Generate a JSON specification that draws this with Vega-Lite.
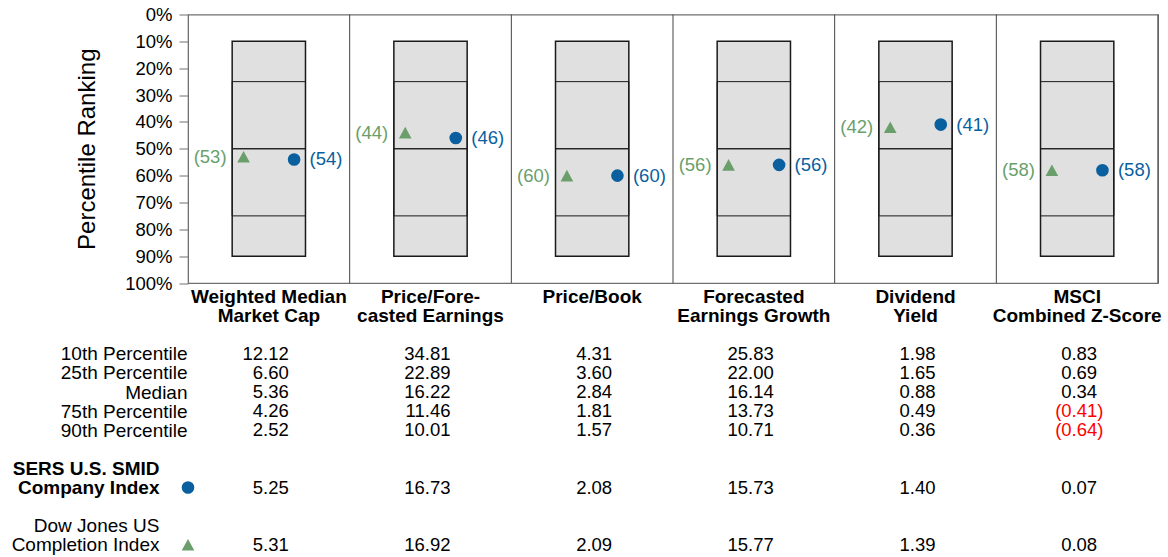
{
  "$schema": "https://vega.github.io/schema/vega-lite/v6.json",
  "background": "white",
  "padding": {"left": 11, "top": 4.5, "right": 4, "bottom": 2},
  "config": {"font": "Liberation Sans", "view": {"stroke": null}},
  "bounds": "flush",
  "spacing": 70.3,
  "datasets": {
    "metrics": [
      {"metric": "Weighted Median\nMarket Cap", "p10": 10, "p25": 25, "p50": 50, "p75": 75, "p90": 90},
      {"metric": "Price/Fore-\ncasted Earnings", "p10": 10, "p25": 25, "p50": 50, "p75": 75, "p90": 90},
      {"metric": "Price/Book", "p10": 10, "p25": 25, "p50": 50, "p75": 75, "p90": 90},
      {"metric": "Forecasted\nEarnings Growth", "p10": 10, "p25": 25, "p50": 50, "p75": 75, "p90": 90},
      {"metric": "Dividend\nYield", "p10": 10, "p25": 25, "p50": 50, "p75": 75, "p90": 90},
      {"metric": "MSCI\nCombined Z-Score", "p10": 10, "p25": 25, "p50": 50, "p75": 75, "p90": 90}
    ],
    "ranks": [
      {"metric": "Weighted Median\nMarket Cap", "series": "SERS U.S. SMID Company Index", "pct": 54},
      {"metric": "Weighted Median\nMarket Cap", "series": "Dow Jones US Completion Index", "pct": 53},
      {"metric": "Price/Fore-\ncasted Earnings", "series": "SERS U.S. SMID Company Index", "pct": 46},
      {"metric": "Price/Fore-\ncasted Earnings", "series": "Dow Jones US Completion Index", "pct": 44},
      {"metric": "Price/Book", "series": "SERS U.S. SMID Company Index", "pct": 60},
      {"metric": "Price/Book", "series": "Dow Jones US Completion Index", "pct": 60},
      {"metric": "Forecasted\nEarnings Growth", "series": "SERS U.S. SMID Company Index", "pct": 56},
      {"metric": "Forecasted\nEarnings Growth", "series": "Dow Jones US Completion Index", "pct": 56},
      {"metric": "Dividend\nYield", "series": "SERS U.S. SMID Company Index", "pct": 41},
      {"metric": "Dividend\nYield", "series": "Dow Jones US Completion Index", "pct": 42},
      {"metric": "MSCI\nCombined Z-Score", "series": "SERS U.S. SMID Company Index", "pct": 58},
      {"metric": "MSCI\nCombined Z-Score", "series": "Dow Jones US Completion Index", "pct": 58}
    ],
    "keys": [
      {"series": "SERS U.S. SMID Company Index"},
      {"series": "Dow Jones US Completion Index"}
    ],
    "stats": [
      {"metric": "Weighted Median\nMarket Cap", "row": "10th Percentile", "value": 12.12},
      {"metric": "Weighted Median\nMarket Cap", "row": "25th Percentile", "value": 6.60},
      {"metric": "Weighted Median\nMarket Cap", "row": "Median", "value": 5.36},
      {"metric": "Weighted Median\nMarket Cap", "row": "75th Percentile", "value": 4.26},
      {"metric": "Weighted Median\nMarket Cap", "row": "90th Percentile", "value": 2.52},
      {"metric": "Weighted Median\nMarket Cap", "row": "SERS U.S. SMID Company Index", "value": 5.25},
      {"metric": "Weighted Median\nMarket Cap", "row": "Dow Jones US Completion Index", "value": 5.31},
      {"metric": "Price/Fore-\ncasted Earnings", "row": "10th Percentile", "value": 34.81},
      {"metric": "Price/Fore-\ncasted Earnings", "row": "25th Percentile", "value": 22.89},
      {"metric": "Price/Fore-\ncasted Earnings", "row": "Median", "value": 16.22},
      {"metric": "Price/Fore-\ncasted Earnings", "row": "75th Percentile", "value": 11.46},
      {"metric": "Price/Fore-\ncasted Earnings", "row": "90th Percentile", "value": 10.01},
      {"metric": "Price/Fore-\ncasted Earnings", "row": "SERS U.S. SMID Company Index", "value": 16.73},
      {"metric": "Price/Fore-\ncasted Earnings", "row": "Dow Jones US Completion Index", "value": 16.92},
      {"metric": "Price/Book", "row": "10th Percentile", "value": 4.31},
      {"metric": "Price/Book", "row": "25th Percentile", "value": 3.60},
      {"metric": "Price/Book", "row": "Median", "value": 2.84},
      {"metric": "Price/Book", "row": "75th Percentile", "value": 1.81},
      {"metric": "Price/Book", "row": "90th Percentile", "value": 1.57},
      {"metric": "Price/Book", "row": "SERS U.S. SMID Company Index", "value": 2.08},
      {"metric": "Price/Book", "row": "Dow Jones US Completion Index", "value": 2.09},
      {"metric": "Forecasted\nEarnings Growth", "row": "10th Percentile", "value": 25.83},
      {"metric": "Forecasted\nEarnings Growth", "row": "25th Percentile", "value": 22.00},
      {"metric": "Forecasted\nEarnings Growth", "row": "Median", "value": 16.14},
      {"metric": "Forecasted\nEarnings Growth", "row": "75th Percentile", "value": 13.73},
      {"metric": "Forecasted\nEarnings Growth", "row": "90th Percentile", "value": 10.71},
      {"metric": "Forecasted\nEarnings Growth", "row": "SERS U.S. SMID Company Index", "value": 15.73},
      {"metric": "Forecasted\nEarnings Growth", "row": "Dow Jones US Completion Index", "value": 15.77},
      {"metric": "Dividend\nYield", "row": "10th Percentile", "value": 1.98},
      {"metric": "Dividend\nYield", "row": "25th Percentile", "value": 1.65},
      {"metric": "Dividend\nYield", "row": "Median", "value": 0.88},
      {"metric": "Dividend\nYield", "row": "75th Percentile", "value": 0.49},
      {"metric": "Dividend\nYield", "row": "90th Percentile", "value": 0.36},
      {"metric": "Dividend\nYield", "row": "SERS U.S. SMID Company Index", "value": 1.40},
      {"metric": "Dividend\nYield", "row": "Dow Jones US Completion Index", "value": 1.39},
      {"metric": "MSCI\nCombined Z-Score", "row": "10th Percentile", "value": 0.83},
      {"metric": "MSCI\nCombined Z-Score", "row": "25th Percentile", "value": 0.69},
      {"metric": "MSCI\nCombined Z-Score", "row": "Median", "value": 0.34},
      {"metric": "MSCI\nCombined Z-Score", "row": "75th Percentile", "value": -0.41},
      {"metric": "MSCI\nCombined Z-Score", "row": "90th Percentile", "value": -0.64},
      {"metric": "MSCI\nCombined Z-Score", "row": "SERS U.S. SMID Company Index", "value": 0.07},
      {"metric": "MSCI\nCombined Z-Score", "row": "Dow Jones US Completion Index", "value": 0.08}
    ]
  },
  "vconcat": [
    {
      "width": 970,
      "height": 268.5,
      "view": {"stroke": "#707070", "strokeWidth": 1.2},
      "layer": [
        {
          "data": {"name": "metrics"},
          "mark": {"type": "bar", "width": {"band": 0.4535}, "fill": "#e0e0e0", "stroke": "#1a1a1a", "strokeWidth": 1.5},
          "encoding": {
            "x": {
              "field": "metric", "type": "nominal",
              "scale": {"type": "band", "domain": ["Weighted Median\nMarket Cap", "Price/Fore-\ncasted Earnings", "Price/Book", "Forecasted\nEarnings Growth", "Dividend\nYield", "MSCI\nCombined Z-Score"], "paddingInner": 0, "paddingOuter": 0},
              "axis": {"title": null, "orient": "bottom", "labelAngle": 0, "labelExpr": "split(datum.label, '\\n')", "labelFontSize": 19, "labelFontWeight": "bold", "labelColor": "black", "labelBaseline": "top", "labelLineHeight": 19, "labelPadding": 4, "ticks": false, "domain": false, "grid": false, "labelOverlap": false, "labelBound": false, "labelLimit": 400}
            },
            "y": {
              "field": "p10", "type": "quantitative",
              "scale": {"domain": [0, 100], "reverse": true, "nice": false, "zero": true},
              "axis": {"title": "Percentile Ranking", "titleFontSize": 24, "titleFontWeight": "normal", "titleColor": "black", "titlePadding": 25, "values": [0, 10, 20, 30, 40, 50, 60, 70, 80, 90, 100], "tickCount": 11, "labelExpr": "datum.value + '%'", "labelFontSize": 18.5, "labelColor": "black", "labelPadding": 7, "tickSize": 9, "tickColor": "#707070", "domainColor": "#707070", "grid": false, "labelFlush": false, "labelOverlap": false, "labelBound": false}
            },
            "y2": {"field": "p90"}
          }
        },
        {
          "data": {"name": "metrics"},
          "mark": {"type": "bar", "width": {"band": 0.4535}, "fill": "transparent", "stroke": "#1a1a1a", "strokeWidth": 1},
          "encoding": {
            "x": {"field": "metric", "type": "nominal"},
            "y": {"field": "p25", "type": "quantitative",
              "axis": {"title": "Percentile Ranking", "titleFontSize": 24, "titleFontWeight": "normal", "titleColor": "black", "titlePadding": 25, "values": [0, 10, 20, 30, 40, 50, 60, 70, 80, 90, 100], "tickCount": 11, "labelExpr": "datum.value + '%'", "labelFontSize": 18.5, "labelColor": "black", "labelPadding": 7, "tickSize": 9, "tickColor": "#707070", "domainColor": "#707070", "grid": false, "labelFlush": false, "labelOverlap": false, "labelBound": false}},
            "y2": {"field": "p50"}
          }
        },
        {
          "data": {"name": "metrics"},
          "mark": {"type": "bar", "width": {"band": 0.4535}, "fill": "transparent", "stroke": "#1a1a1a", "strokeWidth": 1},
          "encoding": {
            "x": {"field": "metric", "type": "nominal"},
            "y": {"field": "p50", "type": "quantitative",
              "axis": {"title": "Percentile Ranking", "titleFontSize": 24, "titleFontWeight": "normal", "titleColor": "black", "titlePadding": 25, "values": [0, 10, 20, 30, 40, 50, 60, 70, 80, 90, 100], "tickCount": 11, "labelExpr": "datum.value + '%'", "labelFontSize": 18.5, "labelColor": "black", "labelPadding": 7, "tickSize": 9, "tickColor": "#707070", "domainColor": "#707070", "grid": false, "labelFlush": false, "labelOverlap": false, "labelBound": false}},
            "y2": {"field": "p75"}
          }
        },
        {
          "data": {"name": "metrics"},
          "mark": {"type": "rule", "color": "#444444", "strokeWidth": 1},
          "encoding": {
            "x": {"field": "metric", "type": "nominal", "bandPosition": 1}
          }
        },
        {
          "data": {"name": "ranks"},
          "mark": {"type": "point", "filled": true, "size": 160, "opacity": 1},
          "encoding": {
            "x": {"field": "metric", "type": "nominal"},
            "xOffset": {"field": "series", "type": "nominal", "scale": {"type": "band", "domain": ["Dow Jones US Completion Index", "SERS U.S. SMID Company Index"], "paddingInner": 0, "paddingOuter": 0.6}},
            "y": {"field": "pct", "type": "quantitative",
              "axis": {"title": "Percentile Ranking", "titleFontSize": 24, "titleFontWeight": "normal", "titleColor": "black", "titlePadding": 25, "values": [0, 10, 20, 30, 40, 50, 60, 70, 80, 90, 100], "tickCount": 11, "labelExpr": "datum.value + '%'", "labelFontSize": 18.5, "labelColor": "black", "labelPadding": 7, "tickSize": 9, "tickColor": "#707070", "domainColor": "#707070", "grid": false, "labelFlush": false, "labelOverlap": false, "labelBound": false}},
            "shape": {"field": "series", "type": "nominal", "scale": {"domain": ["SERS U.S. SMID Company Index", "Dow Jones US Completion Index"], "range": ["circle", "M0,-0.92L-1,0.92L1,0.92Z"]}, "legend": null},
            "color": {"field": "series", "type": "nominal", "scale": {"domain": ["SERS U.S. SMID Company Index", "Dow Jones US Completion Index"], "range": ["#0a5f9e", "#6a9f6b"]}, "legend": null}
          }
        },
        {
          "data": {"name": "ranks"},
          "transform": [
            {"filter": "datum.series === 'Dow Jones US Completion Index'"},
            {"calculate": "'(' + datum.pct + ')'", "as": "label"}
          ],
          "mark": {"type": "text", "align": "right", "baseline": "middle", "dx": -17, "fontSize": 18.5, "color": "#6a9f6b"},
          "encoding": {
            "x": {"field": "metric", "type": "nominal"},
            "xOffset": {"field": "series", "type": "nominal"},
            "y": {"field": "pct", "type": "quantitative",
              "axis": {"title": "Percentile Ranking", "titleFontSize": 24, "titleFontWeight": "normal", "titleColor": "black", "titlePadding": 25, "values": [0, 10, 20, 30, 40, 50, 60, 70, 80, 90, 100], "tickCount": 11, "labelExpr": "datum.value + '%'", "labelFontSize": 18.5, "labelColor": "black", "labelPadding": 7, "tickSize": 9, "tickColor": "#707070", "domainColor": "#707070", "grid": false, "labelFlush": false, "labelOverlap": false, "labelBound": false}},
            "text": {"field": "label"}
          }
        },
        {
          "data": {"name": "ranks"},
          "transform": [
            {"filter": "datum.series === 'SERS U.S. SMID Company Index'"},
            {"calculate": "'(' + datum.pct + ')'", "as": "label"}
          ],
          "mark": {"type": "text", "align": "left", "baseline": "middle", "dx": 15.5, "fontSize": 18.5, "color": "#0a5f9e"},
          "encoding": {
            "x": {"field": "metric", "type": "nominal"},
            "xOffset": {"field": "series", "type": "nominal"},
            "y": {"field": "pct", "type": "quantitative",
              "axis": {"title": "Percentile Ranking", "titleFontSize": 24, "titleFontWeight": "normal", "titleColor": "black", "titlePadding": 25, "values": [0, 10, 20, 30, 40, 50, 60, 70, 80, 90, 100], "tickCount": 11, "labelExpr": "datum.value + '%'", "labelFontSize": 18.5, "labelColor": "black", "labelPadding": 7, "tickSize": 9, "tickColor": "#707070", "domainColor": "#707070", "grid": false, "labelFlush": false, "labelOverlap": false, "labelBound": false}},
            "text": {"field": "label"}
          }
        }
      ]
    },
    {
      "width": 970,
      "height": 191,
      "view": {"stroke": null},
      "layer": [
        {
          "data": {"name": "stats"},
          "transform": [{"filter": "datum.value >= 0"}],
          "mark": {"type": "text", "align": "right", "baseline": "middle", "dx": 20, "fontSize": 18.5, "color": "black"},
          "encoding": {
            "x": {
              "field": "metric", "type": "nominal",
              "scale": {"type": "band", "domain": ["Weighted Median\nMarket Cap", "Price/Fore-\ncasted Earnings", "Price/Book", "Forecasted\nEarnings Growth", "Dividend\nYield", "MSCI\nCombined Z-Score"], "paddingInner": 0, "paddingOuter": 0},
              "axis": null
            },
            "y": {
              "field": "row", "type": "nominal",
              "scale": {"type": "point", "padding": 0, "domain": ["10th Percentile", "25th Percentile", "Median", "75th Percentile", "90th Percentile", "gap1", "gap2", "SERS U.S. SMID Company Index", "gap3", "gap4", "Dow Jones US Completion Index"]},
              "axis": {
                "title": null, "domain": false, "ticks": false, "grid": false,
                "values": ["10th Percentile", "25th Percentile", "Median", "75th Percentile", "90th Percentile", "SERS U.S. SMID Company Index", "Dow Jones US Completion Index"],
                "labelExpr": "indexof(datum.label, ' Comp') > 0 ? [slice(datum.label, 0, indexof(datum.label, ' Comp')), slice(datum.label, indexof(datum.label, ' Comp') + 1)] : datum.label",
                "labelFontSize": 19, "labelColor": "black", "labelBaseline": "middle", "labelLineHeight": 19.1, "labelAlign": "right",
                "labelPadding": {"condition": {"test": "indexof(datum.value, ' Comp') > 0", "value": 29}, "value": 1},
                "labelOffset": {"condition": {"test": "indexof(datum.value, ' Comp') > 0", "value": -19.1}, "value": 0},
                "labelFontWeight": {"condition": {"test": "datum.value === 'SERS U.S. SMID Company Index'", "value": "bold"}, "value": "normal"},
                "labelOverlap": false, "labelBound": false, "labelLimit": 400
              }
            },
            "text": {"field": "value", "type": "quantitative", "format": "(.2f"}
          }
        },
        {
          "data": {"name": "stats"},
          "transform": [{"filter": "datum.value < 0"}],
          "mark": {"type": "text", "align": "right", "baseline": "middle", "dx": 26.3, "fontSize": 18.5, "color": "#ff0000"},
          "encoding": {
            "x": {"field": "metric", "type": "nominal"},
            "y": {"field": "row", "type": "nominal"},
            "text": {"field": "value", "type": "quantitative", "format": "(.2f"}
          }
        },
        {
          "data": {"name": "keys"},
          "mark": {"type": "point", "filled": true, "size": 160, "opacity": 1},
          "encoding": {
            "x": {"datum": "Weighted Median\nMarket Cap", "type": "nominal", "bandPosition": 0},
            "y": {"field": "series", "type": "nominal"},
            "shape": {"field": "series", "type": "nominal", "scale": {"domain": ["SERS U.S. SMID Company Index", "Dow Jones US Completion Index"], "range": ["circle", "M0,-0.92L-1,0.92L1,0.92Z"]}, "legend": null},
            "color": {"field": "series", "type": "nominal", "scale": {"domain": ["SERS U.S. SMID Company Index", "Dow Jones US Completion Index"], "range": ["#0a5f9e", "#6a9f6b"]}, "legend": null}
          }
        }
      ]
    }
  ]
}
